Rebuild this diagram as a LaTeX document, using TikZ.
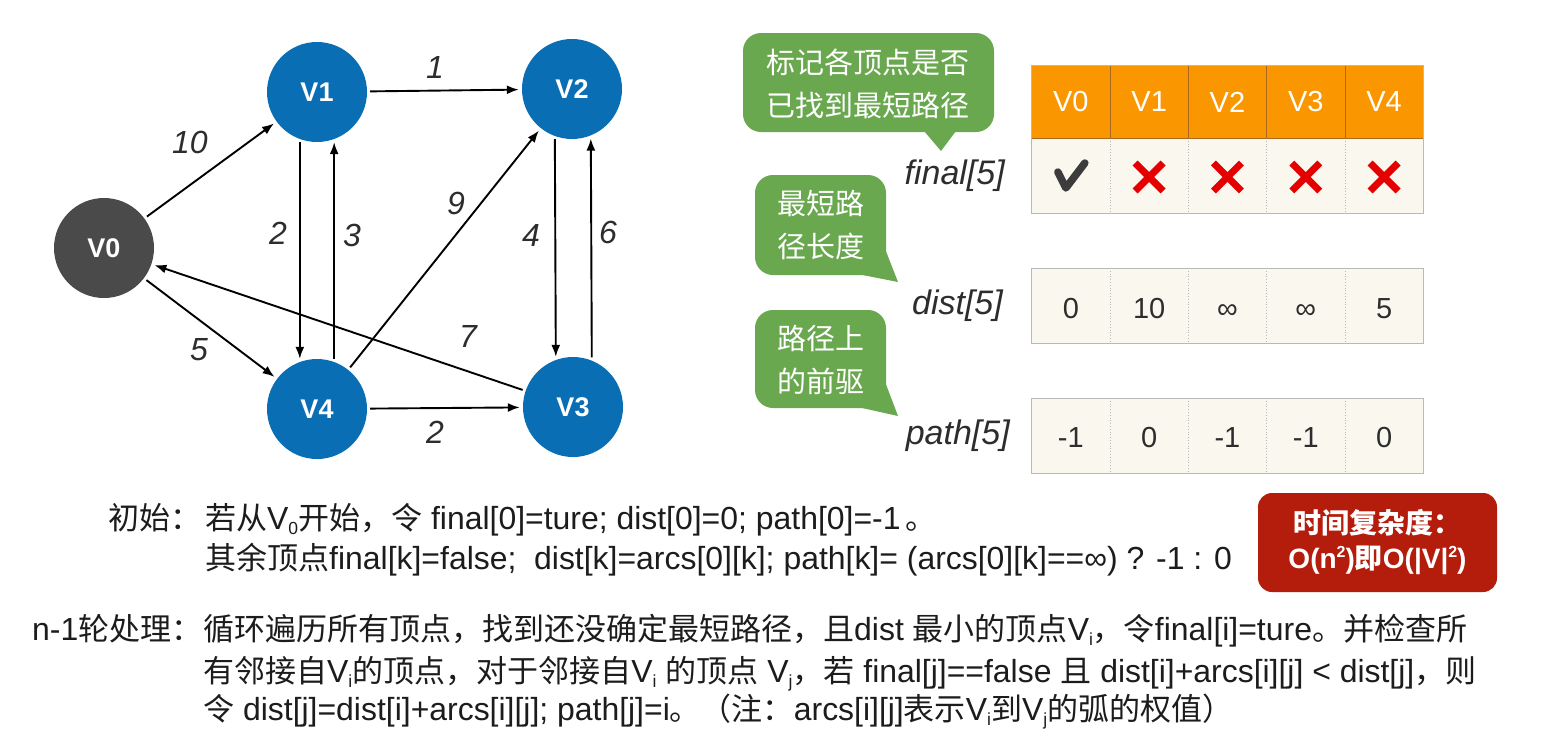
\documentclass[tikz,border=0pt]{standalone}
\usepackage{fontspec}
\setmainfont{Liberation Sans}
\newfontfamily\cjk{Noto Sans CJK SC}
\newfontfamily\lat{Liberation Sans}
\newfontfamily\latb[Scale=1.03]{Liberation Sans}
\usetikzlibrary{arrows.meta}
% automatic switching between Latin and CJK fonts
\newXeTeXintercharclass\cjkcls
\newcount\cc
\cc="3000 \loop\ifnum\cc<"3040 \XeTeXcharclass\cc=\cjkcls \advance\cc 1 \repeat
\cc="4E00 \loop\ifnum\cc<"A000 \XeTeXcharclass\cc=\cjkcls \advance\cc 1 \repeat
\cc="FF00 \loop\ifnum\cc<"FFF0 \XeTeXcharclass\cc=\cjkcls \advance\cc 1 \repeat
\def\latsw{\lat}
\XeTeXinterchartoks 0 \cjkcls = {\cjk}
\XeTeXinterchartoks 4095 \cjkcls = {\cjk}
\XeTeXinterchartoks \cjkcls 0 = {\latsw}
\XeTeXinterchartoks \cjkcls 4095 = {\latsw}
\XeTeXinterchartokenstate=1
\newcommand\sbs[1]{\raisebox{-0.16em}{\fontsize{17}{17}\selectfont #1}}
\newcommand\sps[1]{\raisebox{0.42em}{\fontsize{16}{16}\selectfont #1}}
\definecolor{nodeblue}{RGB}{10,110,180}
\definecolor{nodegray}{RGB}{74,74,74}
\definecolor{txtgray}{RGB}{45,45,45}
\definecolor{checkgray}{RGB}{60,60,60}
\definecolor{hdrorange}{RGB}{250,150,0}
\definecolor{hdrline}{RGB}{170,105,30}
\definecolor{cellcream}{RGB}{250,248,238}
\definecolor{cellborder}{RGB}{185,185,185}
\definecolor{callgreen}{RGB}{106,168,79}
\definecolor{boxred}{RGB}{180,28,12}
\definecolor{xred}{RGB}{228,0,0}
\definecolor{bodytext}{RGB}{28,28,28}
\tikzset{
  vert/.style={circle, minimum size=100pt, inner sep=0pt, fill=nodeblue, text=white,
    font=\fontsize{27}{27}\selectfont\bfseries},
  edge/.style={-{Latex[length=12pt,width=9pt]}, line width=1.9pt, black,
    shorten >=3pt, shorten <=3pt},
  wlabel/.style={font=\fontsize{32}{32}\selectfont\itshape, text=txtgray, inner sep=0pt},
  hdrtext/.style={font=\fontsize{29}{29}\selectfont, text=white, inner sep=0pt},
  valtext/.style={font=\fontsize{29}{29}\selectfont, text=txtgray, inner sep=0pt, anchor=base},
  rowlabel/.style={font=\fontsize{34}{34}\selectfont\itshape, text=txtgray, inner sep=0pt, anchor=east},
  calltext/.style={font=\fontsize{29}{43}\selectfont, text=white, align=center, inner sep=0pt},
  bodyline/.style={font=\def\latsw{\latb}\latb\fontsize{31}{31}\selectfont, text=bodytext, inner sep=0pt, anchor=base west},
  redbox/.style={fill=boxred, rounded corners=14pt, text=white, align=center,
    font=\fontsize{28}{35}\selectfont\bfseries, minimum width=239pt, minimum height=99pt, inner sep=0pt},
  xmark/.style={xred, line width=7pt},
  checkmark/.style={checkgray, line width=7.5pt, line cap=round, line join=round},
  innersep/.style={cellborder, dotted, line width=0.8pt},
}
\begin{document}
\begin{tikzpicture}[x=1pt,y=-1pt]
\useasboundingbox (0,0) rectangle (1566,742);
\fill[white] (0,0) rectangle (1566,742);

% ---------------- graph ----------------
\node[vert, fill=nodegray] (V0) at (104,248) {V0};
\node[vert] (V1) at (317,92) {V1};
\node[vert] (V2) at (572,89) {V2};
\node[vert] (V4) at (317,409) {V4};
\node[vert] (V3) at (573,407) {V3};

\draw[edge] (V0) -- (V1);
\draw[edge] (V1) -- (V2);
\draw[edge] (V1.250) -- (V4.110);
\draw[edge] (V4.70) -- (V1.290);
\draw[edge] (V4) -- (V2);
\draw[edge] (V2.250) -- (V3.110);
\draw[edge] (V3.68) -- (V2.292);
\draw[edge] (V3) -- (V0);
\draw[edge] (V0) -- (V4);
\draw[edge] (V4) -- (V3);

\node[wlabel] (w01) at (190,142) {10};
\node[wlabel] (w12) at (435,67) {1};
\node[wlabel] (w14) at (278,233) {2};
\node[wlabel] (w41) at (352,235) {3};
\node[wlabel] (w42) at (456,203) {9};
\node[wlabel] (w23) at (531,235) {4};
\node[wlabel] (w32) at (608,232) {6};
\node[wlabel] (w30) at (468,336) {7};
\node[wlabel] (w04) at (199,350) {5};
\node[wlabel] (w43) at (435,432) {2};

% ---------------- table ----------------
\fill[hdrorange] (1031.7,65) rectangle (1423.3,138);
\fill[cellcream] (1031.7,138) rectangle (1423.3,213);
\fill[cellcream] (1031.7,268) rectangle (1423.3,343);
\fill[cellcream] (1031.7,398) rectangle (1423.3,473);
\foreach \i in {1,2,3,4} {
  \draw[hdrline, line width=0.8pt] ({1031.7+78.3*\i},65) -- ({1031.7+78.3*\i},138);
  \draw[innersep] ({1031.7+78.3*\i},138) -- ({1031.7+78.3*\i},213);
  \draw[innersep] ({1031.7+78.3*\i},268) -- ({1031.7+78.3*\i},343);
  \draw[innersep] ({1031.7+78.3*\i},398) -- ({1031.7+78.3*\i},473);
}
\draw[cellborder, line width=1pt] (1031.7,65) rectangle (1423.3,213);
\draw[hdrline, line width=0.6pt] (1031.7,138) -- (1423.3,138);
\draw[cellborder, line width=1pt] (1031.7,268) rectangle (1423.3,343);
\draw[cellborder, line width=1pt] (1031.7,398) rectangle (1423.3,473);

\foreach \i/\lab/\dv/\pv in {0/V0/0/-1,1/V1/10/0,2/V2/∞/-1,3/V3/∞/-1,4/V4/5/0} {
  \node[hdrtext] (h\i) at ({1070.85+78.3*\i},102) {\lab};
  \node[valtext] (d\i) at ({1070.85+78.3*\i},318) {\dv};
  \node[valtext] (p\i) at ({1070.85+78.3*\i},447) {\pv};
}
\coordinate (f0) at (1070.85,177);
\draw[checkmark] ([shift={(-13,-5)}]f0) -- ([shift={(-5,11)}]f0) -- ([shift={(14,-14)}]f0);
\foreach \i in {1,2,3,4} {
  \coordinate (f\i) at ({1070.85+78.3*\i},177);
  \draw[xmark] ([shift={(-14,-14)}]f\i) -- ([shift={(14,14)}]f\i);
  \draw[xmark] ([shift={(-14,14)}]f\i) -- ([shift={(14,-14)}]f\i);
}

\node[rowlabel] (lfinal) at (1005,176) {final[5]};
\node[rowlabel] (ldist) at (1003,306) {dist[5]};
\node[rowlabel] (lpath) at (1010,436) {path[5]};

% ---------------- callouts ----------------
\fill[callgreen, rounded corners=18pt] (743,33) rectangle (994,132);
\fill[callgreen] (924,131) -- (956,131) -- (941,151) -- cycle;
\node[calltext] (c1) at (868,84) {标记各顶点是否\\已找到最短路径};

\fill[callgreen, rounded corners=18pt] (755,175) rectangle (886,275);
\fill[callgreen] (860,274.5) -- (885.5,250) -- (898,282) -- cycle;
\node[calltext] (c2) at (821,225) {最短路\\径长度};

\fill[callgreen, rounded corners=18pt] (755,310) rectangle (886,408);
\fill[callgreen] (860,407.5) -- (885.5,383) -- (898,416) -- cycle;
\node[calltext] (c3) at (821,360) {路径上\\的前驱};

% ---------------- red box ----------------
\node[redbox] (rb) at (1377.5,542.5) {时间复杂度：\\O(n\sps{2})即O(|V|\sps{2})};

% ---------------- text ----------------
\node[bodyline] (t0) at (108,529) {初始：};
\node[bodyline] (t1) at (205,529) {若从V\sbs{0}开始，令 final[0]=ture; dist[0]=0; path[0]=-1\,。};
\node[bodyline] (t2) at (205,569) {其余顶点final[k]=false;\ \ dist[k]=arcs[0][k]; path[k]= (arcs[0][k]==∞) ? -1 : 0};
\node[bodyline] (t3) at (32,640) {n-1轮处理：};
\node[bodyline] (t4) at (203,640) {循环遍历所有顶点，找到还没确定最短路径，且dist 最小的顶点V\sbs{i}，令final[i]=ture。并检查所};
\node[bodyline] (t5) at (203,682) {有邻接自V\sbs{i}的顶点，对于邻接自V\sbs{i} 的顶点 V\sbs{j}，若 final[j]==false 且 dist[i]+arcs[i][j] < dist[j]，则};
\node[bodyline] (t6) at (203,720) {令 dist[j]=dist[i]+arcs[i][j]; path[j]=i。（注：arcs[i][j]表示V\sbs{i}到V\sbs{j}的弧的权值）};
\end{tikzpicture}
\end{document}
